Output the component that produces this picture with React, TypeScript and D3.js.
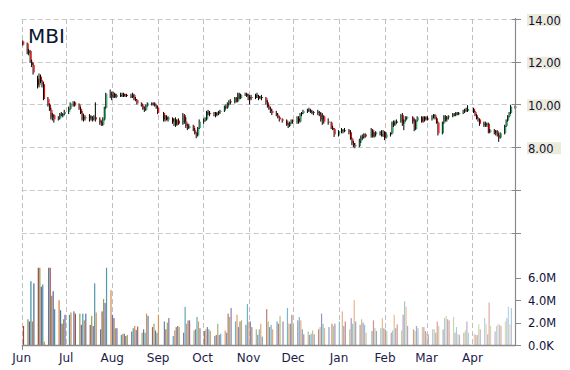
import React from 'react';
import * as d3 from 'd3';

// [day, open, high, low, close]
type Row = [number, number, number, number, number];

const jun2012: Row[] = [
  [1, 12.95, 13.0, 12.75, 12.8], [4, 12.85, 12.9, 12.35, 12.4], [5, 12.4, 12.6, 12.3, 12.5],
  [6, 12.5, 12.55, 11.95, 12.0], [7, 12.0, 12.1, 11.75, 11.85], [8, 11.85, 11.95, 11.4, 11.5],
  [11, 11.2, 11.35, 10.75, 10.9], [12, 10.9, 11.45, 10.8, 11.3], [13, 11.3, 11.4, 11.0, 11.1],
  [14, 11.1, 11.15, 10.8, 10.95], [15, 10.95, 11.05, 10.2, 10.25], [18, 10.25, 10.35, 9.9, 10.0],
  [19, 10.0, 10.05, 9.7, 9.75], [20, 9.75, 9.85, 9.3, 9.4], [21, 9.4, 9.6, 9.25, 9.5],
  [22, 9.5, 9.55, 9.15, 9.3], [25, 9.3, 9.45, 9.25, 9.35], [26, 9.35, 9.6, 9.3, 9.55],
  [27, 9.55, 9.65, 9.45, 9.5], [28, 9.45, 9.6, 9.4, 9.55], [29, 9.55, 9.75, 9.5, 9.65],
];
const jul2012: Row[] = [
  [2, 9.65, 9.9, 9.55, 9.8], [3, 9.8, 10.1, 9.75, 10.05], [5, 10.05, 10.15, 9.9, 10.1],
  [6, 10.1, 10.15, 9.9, 9.95], [9, 10.0, 10.05, 9.75, 9.8], [10, 9.8, 9.9, 9.55, 9.6],
  [11, 9.6, 9.7, 9.25, 9.3], [12, 9.35, 9.55, 9.2, 9.4], [13, 9.4, 9.5, 9.25, 9.35],
  [16, 9.35, 9.55, 9.2, 9.45], [17, 9.45, 9.5, 9.25, 9.3], [18, 9.3, 9.45, 9.2, 9.35],
  [19, 9.35, 9.5, 9.25, 9.4], [20, 9.4, 10.1, 9.2, 9.3], [23, 9.3, 9.4, 9.05, 9.15],
  [24, 9.15, 9.25, 9.0, 9.05], [25, 9.05, 9.4, 9.0, 9.3], [26, 9.3, 9.9, 9.25, 9.85],
  [27, 9.85, 10.55, 9.8, 10.5], [30, 10.5, 10.7, 10.3, 10.45], [31, 10.45, 10.6, 10.2, 10.35],
];
const aug2012: Row[] = [
  [1, 10.35, 10.6, 10.3, 10.5], [2, 10.5, 10.55, 10.3, 10.35], [3, 10.35, 10.5, 10.3, 10.45],
  [6, 10.45, 10.55, 10.35, 10.4], [7, 10.4, 10.55, 10.35, 10.5], [8, 10.5, 10.55, 10.35, 10.4],
  [9, 10.4, 10.5, 10.35, 10.45], [10, 10.45, 10.5, 10.35, 10.4], [13, 10.4, 10.5, 10.3, 10.35],
  [14, 10.35, 10.55, 10.3, 10.45], [15, 10.45, 10.5, 10.2, 10.25], [16, 10.25, 10.35, 10.15, 10.2],
  [17, 10.2, 10.25, 10.0, 10.05], [20, 10.05, 10.1, 9.9, 9.95], [21, 9.95, 10.0, 9.75, 9.8],
  [22, 9.8, 9.9, 9.65, 9.75], [23, 9.75, 10.0, 9.7, 9.95], [24, 9.95, 10.1, 9.9, 10.05],
  [27, 10.05, 10.1, 9.95, 10.0], [28, 10.0, 10.1, 9.95, 10.05], [29, 10.05, 10.1, 9.9, 9.95],
  [30, 9.95, 10.0, 9.8, 9.85], [31, 9.85, 9.95, 9.55, 9.6],
];
const sep2012: Row[] = [
  [4, 9.6, 9.65, 9.2, 9.3], [5, 9.3, 9.5, 9.2, 9.4], [6, 9.4, 9.5, 9.25, 9.3],
  [7, 9.3, 9.45, 9.2, 9.4], [10, 9.35, 9.4, 9.1, 9.2], [11, 9.2, 9.35, 9.0, 9.3],
  [12, 9.3, 9.4, 8.95, 9.05], [13, 9.05, 9.3, 9.0, 9.25], [14, 9.25, 9.35, 9.05, 9.1],
  [17, 9.1, 9.6, 9.05, 9.5], [18, 9.5, 9.55, 9.1, 9.2], [19, 9.2, 9.4, 8.9, 9.0],
  [20, 9.0, 9.1, 8.8, 8.9], [21, 8.9, 9.1, 8.85, 9.0], [24, 9.0, 9.05, 8.75, 8.8],
  [25, 8.8, 8.9, 8.6, 8.65], [26, 8.65, 8.7, 8.42, 8.55], [27, 8.55, 8.95, 8.5, 8.9],
  [28, 8.9, 9.3, 8.85, 9.2],
];
const oct2012: Row[] = [
  [1, 9.2, 9.35, 9.1, 9.25], [2, 9.25, 9.4, 9.2, 9.3], [3, 9.3, 9.7, 9.25, 9.65],
  [4, 9.65, 9.75, 9.5, 9.6], [5, 9.6, 9.7, 9.45, 9.55], [8, 9.55, 9.65, 9.45, 9.6],
  [9, 9.6, 9.65, 9.4, 9.5], [10, 9.5, 9.65, 9.45, 9.6], [11, 9.6, 9.7, 9.5, 9.65],
  [12, 9.65, 9.75, 9.55, 9.7], [15, 9.7, 9.95, 9.65, 9.9], [16, 9.9, 10.0, 9.8, 9.85],
  [17, 9.85, 10.1, 9.8, 10.05], [18, 10.05, 10.2, 9.95, 10.15], [19, 10.15, 10.25, 10.0, 10.1],
  [22, 10.1, 10.35, 10.05, 10.3], [23, 10.3, 10.35, 10.1, 10.15], [24, 10.15, 10.55, 10.1, 10.5],
  [25, 10.5, 10.55, 10.25, 10.3], [26, 10.3, 10.5, 10.25, 10.45], [29, 10.45, 10.55, 10.4, 10.5],
  [30, 10.5, 10.55, 10.35, 10.4], [31, 10.4, 10.5, 10.2, 10.25],
];
const nov2012: Row[] = [
  [1, 10.25, 10.45, 10.0, 10.35], [2, 10.35, 10.45, 10.2, 10.3], [5, 10.3, 10.5, 10.25, 10.45],
  [6, 10.45, 10.55, 10.3, 10.4], [7, 10.4, 10.45, 10.2, 10.3], [8, 10.3, 10.4, 10.25, 10.35],
  [9, 10.35, 10.45, 10.2, 10.3], [12, 10.3, 10.35, 10.0, 10.1], [13, 10.1, 10.2, 9.85, 9.9],
  [14, 9.9, 10.0, 9.75, 9.8], [15, 9.8, 9.9, 9.6, 9.7], [16, 9.7, 9.8, 9.5, 9.6],
  [19, 9.6, 9.7, 9.45, 9.5], [20, 9.5, 9.6, 9.35, 9.4], [21, 9.4, 9.45, 9.2, 9.3],
  [23, 9.3, 9.35, 9.15, 9.25], [26, 9.25, 9.3, 9.0, 9.05], [27, 9.05, 9.15, 8.9, 9.0],
  [28, 9.0, 9.2, 8.95, 9.15], [29, 9.15, 9.3, 9.1, 9.25], [30, 9.25, 9.3, 9.1, 9.2],
];
const dec2012: Row[] = [
  [3, 9.2, 9.45, 9.1, 9.35], [4, 9.35, 9.45, 9.1, 9.2], [5, 9.2, 9.6, 9.15, 9.55],
  [6, 9.55, 9.65, 9.45, 9.6], [7, 9.6, 9.75, 9.55, 9.7], [10, 9.7, 9.8, 9.6, 9.75],
  [11, 9.75, 9.85, 9.65, 9.7], [12, 9.7, 9.8, 9.6, 9.65], [13, 9.65, 9.75, 9.55, 9.6],
  [14, 9.6, 9.7, 9.5, 9.65], [17, 9.65, 9.75, 9.5, 9.6], [18, 9.6, 9.7, 9.45, 9.55],
  [19, 9.55, 9.65, 9.2, 9.3], [20, 9.3, 9.6, 9.05, 9.45], [21, 9.45, 9.5, 9.1, 9.2],
  [24, 9.2, 9.35, 9.05, 9.15], [26, 9.15, 9.2, 8.85, 8.9], [27, 8.9, 9.0, 8.8, 8.85],
  [28, 8.85, 8.9, 8.48, 8.6], [31, 8.6, 8.8, 8.5, 8.75],
];
const jan2013: Row[] = [
  [2, 8.75, 8.9, 8.65, 8.8], [3, 8.8, 8.85, 8.65, 8.75], [4, 8.75, 8.9, 8.7, 8.8],
  [7, 8.8, 8.85, 8.6, 8.7], [8, 8.7, 8.8, 8.35, 8.4], [9, 8.4, 8.45, 8.1, 8.2],
  [10, 8.2, 8.3, 8.0, 8.1], [11, 8.1, 8.2, 7.95, 8.05], [14, 8.05, 8.4, 8.0, 8.3],
  [15, 8.3, 8.55, 8.2, 8.5], [16, 8.5, 8.6, 8.35, 8.45], [17, 8.45, 8.65, 8.4, 8.6],
  [18, 8.6, 8.65, 8.45, 8.5], [22, 8.5, 8.9, 8.45, 8.8], [23, 8.8, 8.85, 8.45, 8.5],
  [24, 8.5, 8.7, 8.45, 8.6], [25, 8.6, 8.75, 8.5, 8.7], [28, 8.7, 8.75, 8.55, 8.6],
  [29, 8.6, 8.8, 8.5, 8.55], [30, 8.55, 8.8, 8.48, 8.7], [31, 8.7, 8.75, 8.33, 8.45],
];
const feb2013: Row[] = [
  [1, 8.45, 8.7, 8.4, 8.6], [4, 8.6, 8.7, 8.5, 8.65], [5, 8.65, 9.2, 8.6, 9.15],
  [6, 9.15, 9.25, 8.95, 9.05], [7, 9.05, 9.25, 9.0, 9.2], [8, 9.2, 9.3, 9.1, 9.2],
  [11, 9.2, 9.55, 9.15, 9.5], [12, 9.5, 9.6, 9.0, 9.1], [13, 9.1, 9.3, 8.8, 9.25],
  [14, 9.25, 9.45, 9.2, 9.35], [15, 9.35, 9.45, 9.3, 9.4], [19, 9.4, 9.45, 9.1, 9.2],
  [20, 9.2, 9.35, 8.75, 8.85], [21, 8.85, 9.3, 8.8, 9.25], [22, 9.25, 9.45, 9.2, 9.4],
  [25, 9.4, 9.45, 9.15, 9.2], [26, 9.2, 9.45, 9.15, 9.4], [27, 9.4, 9.45, 9.2, 9.3],
  [28, 9.3, 9.45, 9.25, 9.35],
];
const mar2013: Row[] = [
  [1, 9.35, 9.45, 9.25, 9.3], [4, 9.3, 9.5, 9.25, 9.45], [5, 9.45, 9.55, 9.35, 9.5],
  [6, 9.5, 9.55, 9.3, 9.35], [7, 9.35, 9.4, 9.1, 9.15], [8, 9.15, 9.2, 8.55, 8.65],
  [11, 8.65, 9.2, 8.6, 9.15], [12, 9.15, 9.5, 9.1, 9.45], [13, 9.45, 9.5, 9.2, 9.3],
  [14, 9.3, 9.45, 9.2, 9.4], [15, 9.4, 9.5, 9.3, 9.45], [18, 9.45, 9.6, 9.4, 9.55],
  [19, 9.55, 9.6, 9.45, 9.5], [20, 9.5, 9.65, 9.45, 9.6], [21, 9.6, 9.65, 9.5, 9.55],
  [22, 9.55, 9.65, 9.5, 9.6], [25, 9.6, 9.75, 9.55, 9.7], [26, 9.7, 9.8, 9.6, 9.75],
  [27, 9.75, 9.85, 9.65, 9.7], [28, 9.7, 9.97, 9.65, 9.8],
];
const apr2013: Row[] = [
  [1, 9.8, 9.85, 9.6, 9.65], [2, 9.65, 9.7, 9.45, 9.5], [3, 9.5, 9.55, 9.3, 9.35],
  [4, 9.35, 9.4, 9.2, 9.3], [5, 9.3, 9.35, 9.0, 9.1], [8, 9.1, 9.2, 8.95, 9.1],
  [9, 9.1, 9.2, 8.95, 9.05], [10, 9.05, 9.15, 8.95, 9.1], [11, 9.1, 9.15, 8.65, 8.7],
  [12, 8.7, 8.85, 8.65, 8.8], [15, 8.8, 8.85, 8.6, 8.65], [16, 8.65, 8.8, 8.55, 8.75],
  [17, 8.75, 8.8, 8.5, 8.55], [18, 8.55, 8.65, 8.25, 8.45], [19, 8.45, 8.7, 8.4, 8.65],
  [22, 8.65, 9.05, 8.6, 9.0], [23, 9.0, 9.3, 8.95, 9.25], [24, 9.25, 9.5, 9.2, 9.45],
  [25, 9.45, 9.65, 9.4, 9.6], [26, 9.6, 9.97, 9.55, 9.9], [29, 9.9, 9.95, 9.8, 9.85],
];

// daily volume, millions of shares
const junVol = [1.7, 2.3, 2.1, 5.7, 2.1, 5.5, 8.5, 9.2, 5.2, 5.4, 0.3, 8.0, 10.5, 4.4, 4.8, 3.2, 4.0, 3.1, 1.9, 2.3, 2.7];
const julVol = [2.7, 2.9, 3.0, 2.8, 2.8, 1.8, 2.8, 2.2, 2.8, 1.8, 2.6, 1.7, 5.5, 2.9, 1.4, 3.0, 4.1, 3.75, 7.8, 4.9, 2.7];
const augVol = [2.4, 1.5, 1.5, 0.9, 1.0, 1.0, 0.8, 0.9, 1.2, 1.5, 1.7, 1.35, 1.65, 1.1, 1.4, 1.1, 2.8, 2.6, 1.6, 1.9, 1.3, 1.1, 2.7];
const sepVol = [2.1, 1.4, 2.0, 2.4, 0.8, 1.3, 1.6, 1.7, 1.6, 1.1, 3.4, 1.9, 2.2, 2.2, 1.3, 1.4, 2.5, 2.1, 1.5];
const octVol = [1.25, 1.4, 1.6, 1.4, 1.25, 0.8, 0.9, 1.9, 0.9, 1.0, 1.3, 1.1, 2.8, 2.5, 3.3, 2.1, 2.7, 1.6, 2.1, 2.2, 1.8, 3.65, 2.1];
const novVol = [2.1, 1.6, 1.4, 0.9, 1.4, 1.9, 0.75, 3.2, 2.1, 1.6, 1.8, 1.4, 2.1, 1.9, 2.6, 2.1, 3.3, 1.9, 1.9, 2.7, 1.8];
const decVol = [2.2, 2.5, 2.2, 1.4, 0.95, 1.2, 0.9, 1.0, 1.3, 0.95, 1.4, 1.6, 2.8, 1.9, 1.5, 1.6, 1.9, 1.7, 1.9, 2.1];
const janVol = [3.0, 1.7, 2.1, 1.4, 2.4, 1.9, 4.0, 2.1, 1.8, 2.3, 2.0, 1.8, 1.1, 1.25, 2.2, 1.5, 1.25, 1.5, 2.4, 1.5, 1.4];
const febVol = [1.25, 1.1, 1.3, 2.7, 1.5, 1.85, 1.3, 2.7, 3.9, 3.4, 1.7, 1.4, 1.25, 1.7, 1.5, 1.6, 1.6, 1.25, 1.1];
const marVol = [0.95, 1.4, 1.4, 1.1, 2.1, 1.7, 1.4, 2.4, 2.6, 2.3, 2.2, 2.5, 1.1, 1.6, 1.0, 0.9, 1.1, 1.3, 2.1, 1.1];
const aprVol = [1.0, 0.9, 0.9, 1.85, 1.4, 2.4, 1.85, 0.95, 3.8, 1.7, 1.2, 1.7, 1.9, 1.8, 1.7, 2.1, 2.4, 3.4, 1.85, 3.3, 3.2];

const priceTicks = [4, 6, 8, 10, 12, 14];
const priceLabels = [8, 10, 12, 14];
const volTicks = [0, 2, 4, 6];
const volLabels = ['0.0K', '2.0M', '4.0M', '6.0M'];
const title = 'MBI';

const monthBlocks: [number, number, Row[], number[]][] = [
  [2012, 5, jun2012, junVol], [2012, 6, jul2012, julVol], [2012, 7, aug2012, augVol],
  [2012, 8, sep2012, sepVol], [2012, 9, oct2012, octVol], [2012, 10, nov2012, novVol],
  [2012, 11, dec2012, decVol], [2013, 0, jan2013, janVol], [2013, 1, feb2013, febVol],
  [2013, 2, mar2013, marVol], [2013, 3, apr2013, aprVol],
];

interface Bar { t: number; o: number; h: number; l: number; c: number; v: number; }

const bars: Bar[] = [];
monthBlocks.forEach(([yr, mo, rows, vols]) => {
  rows.forEach((r, i) => {
    bars.push({ t: Date.UTC(yr, mo, r[0]), o: r[1], h: r[2], l: r[3], c: r[4], v: vols[i] ?? 0 });
  });
});

const palette = ['#4F81BD', '#C0504D', '#9BBB59', '#8064A2', '#4BACC6', '#F79646'];
const FONT = '"DejaVu Sans", Verdana, sans-serif';

export default function App() {
  const x = d3.scaleUtc().domain([Date.UTC(2012, 5, 1), Date.UTC(2013, 3, 30)]).range([21.7, 515.5]);
  const yP = d3.scaleLinear().domain([4, 14]).range([232.7, 19]);
  const yV = d3.scaleLinear().domain([0, 6.9]).range([345, 267.7]);
  const months = x.ticks(d3.utcMonth.every(1) as any);
  const fmt = d3.utcFormat('%b');
  const left = x.range()[0];
  const right = x.range()[1];
  const n = bars.length;

  const barColor = (i: number) => {
    const base = palette[(i + 1) % palette.length];
    const dark = d3.rgb(base).darker(0.55).formatHex();
    const light = d3.interpolateRgb(base, '#ffffff')(0.55);
    return d3.interpolateRgb(dark, light)(i / (n - 1));
  };

  return (
    <svg width={570} height={370} style={{ position: 'absolute', left: 0, top: 0, background: '#fff' }}>
      <defs>
        <clipPath id="volclip">
          <rect x={left} y={yV.range()[1]} width={right - left} height={yV.range()[0] - yV.range()[1]} />
        </clipPath>
      </defs>
      {/* horizontal grid */}
      {priceTicks.map((p) => (
        <line key={'hg' + p} x1={left} x2={right} y1={Math.round(yP(p)) + 0.5} y2={Math.round(yP(p)) + 0.5}
          stroke="#c8c8c8" strokeDasharray="5,3" />
      ))}
      {/* vertical grid */}
      {months.map((m) => (
        <line key={'vg' + +m} x1={Math.round(x(m)) + 0.5} x2={Math.round(x(m)) + 0.5} y1={19} y2={345}
          stroke="#c0c0c0" strokeDasharray="5,3" />
      ))}
      {/* volume */}
      <g clipPath="url(#volclip)">
        {bars.map((b, i) => (
          <rect key={'v' + i} x={x(b.t) + 1.2} width={1.2} y={yV(b.v)} height={yV(0) - yV(b.v)} fill={barColor(i)} />
        ))}
      </g>
      {/* candles */}
      {bars.map((b, i) => {
        const cx = x(b.t) + 0.5;
        const up = b.c > b.o;
        const flat = Math.abs(b.c - b.o) < 0.04;
        const col = flat ? '#000' : up ? '#13a85b' : '#ff0000';
        const yt = yP(Math.max(b.o, b.c));
        const yb = yP(Math.min(b.o, b.c));
        return (
          <g key={'c' + i}>
            <rect x={cx} width={1} y={yP(b.h)} height={Math.max(1, yP(b.l) - yP(b.h))} fill="#000" />
            <rect x={cx + 1} width={1.1} y={yt} height={Math.max(1, yb - yt)} fill={col} />
          </g>
        );
      })}
      {/* bottom axis */}
      <line x1={left} x2={right} y1={345.5} y2={345.5} stroke="#8a8a8a" strokeWidth={1.5} />
      <line x1={Math.round(left) + 0.5} x2={Math.round(left) + 0.5} y1={345} y2={350} stroke="#8a8a8a" />
      {months.map((m) => (
        <text key={'ml' + +m} x={x(m)} y={362} textAnchor="middle" fontFamily={FONT} fontSize={12} fill="#1c1c48">
          {fmt(m)}
        </text>
      ))}
      {/* right axis */}
      <line x1={515.5} x2={515.5} y1={18} y2={346} stroke="#8a8a8a" strokeWidth={1.2} />
      {priceTicks.map((p) => (
        <line key={'pt' + p} x1={512} x2={521} y1={Math.round(yP(p)) + 0.5} y2={Math.round(yP(p)) + 0.5} stroke="#8a8a8a" />
      ))}
      {priceLabels.map((p) => (
        <g key={'pl' + p}>
          <rect x={527} y={yP(p) - 5} width={34} height={12} fill="#ecead9" />
          <text x={528} y={yP(p) + 5.5} fontFamily={FONT} fontSize={11.5} fill="#10103a">{p.toFixed(2)}</text>
        </g>
      ))}
      {volTicks.map((v, i) => (
        <g key={'vt' + v}>
          <line x1={515} x2={521} y1={Math.round(yV(v)) + 0.5} y2={Math.round(yV(v)) + 0.5} stroke="#8a8a8a" />
          <text x={528} y={yV(v) + 4.5} fontFamily={FONT} fontSize={11.5} fill="#10103a">{volLabels[i]}</text>
        </g>
      ))}
      {/* title */}
      <text x={28} y={43} fontFamily={FONT} fontSize={20} fill="#0b1530">{title}</text>
    </svg>
  );
}
